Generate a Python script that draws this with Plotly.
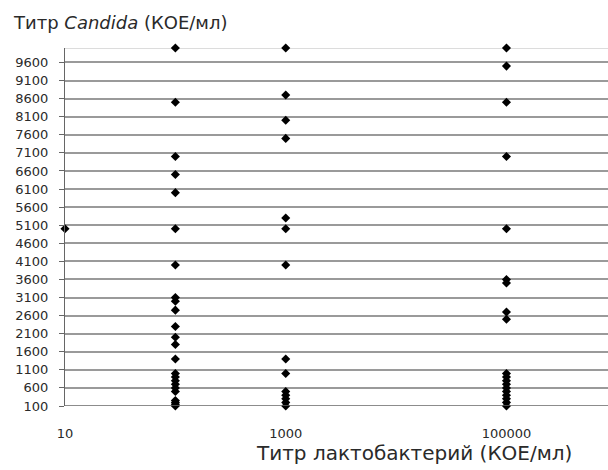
import plotly.graph_objects as go

# Data (x: lactobacilli titre, y: Candida titre)
x_10 = [10]
y_10 = [5000]
x_100 = 100
y_100 = [10000, 8500, 7000, 6500, 6000, 5000, 4000, 3100, 3000, 2750, 2300, 2000, 1800, 1400,
         1000, 900, 800, 700, 600, 500, 250, 200, 150, 100]
x_1000 = 1000
y_1000 = [10000, 8700, 8000, 7500, 5300, 5000, 4000, 1400, 1000, 500, 400, 300, 200, 100]
x_1e5 = 100000
y_1e5 = [10000, 9500, 8500, 7000, 5000, 3600, 3500, 2700, 2500,
         1000, 900, 800, 700, 600, 500, 400, 300, 200, 100]

y_ticks = list(range(100, 10000, 500))
x_ticks = [10, 1000, 100000]
x_tick_labels = ["10", "1000", "100000"]

xs = x_10 + [x_100] * len(y_100) + [x_1000] * len(y_1000) + [x_1e5] * len(y_1e5)
ys = y_10 + y_100 + y_1000 + y_1e5

fig = go.Figure()
fig.add_trace(go.Scatter(
    x=xs, y=ys, mode="markers",
    marker=dict(symbol="diamond", size=7, color="#000000"),
    cliponaxis=False, showlegend=False,
))

fig.add_shape(type="line", xref="paper", yref="y", x0=0, x1=1, y0=10000, y1=10000,
              line=dict(color="#d0d0d0", width=1.5), layer="below")

font = "DejaVu Sans, sans-serif"
fig.update_layout(
    width=608, height=470,
    margin=dict(l=65, r=0, t=48, b=64),
    paper_bgcolor="white", plot_bgcolor="white",
    font=dict(family=font, color="#2a2a2a"),
    annotations=[
        dict(text="Титр <i>Candida</i> (КОЕ/мл)", xref="paper", yref="paper",
             x=-54/543, y=1 + 26/358, xanchor="left", yanchor="middle",
             showarrow=False, font=dict(size=18, color="#2a2a2a", family=font)),
        dict(text="Титр лактобактерий (КОЕ/мл)", xref="paper", yref="paper",
             x=509/543, y=-47/358, xanchor="right", yanchor="middle",
             showarrow=False, font=dict(size=20, color="#2a2a2a", family=font)),
    ],
)
fig.update_xaxes(
    type="log", range=[1, 5.92],
    tickvals=x_ticks, ticktext=x_tick_labels,
    showgrid=False, zeroline=False, showline=False,
    ticks="", ticklabelstandoff=18,
    tickfont=dict(size=13, color="#2a2a2a"),
)
fig.update_yaxes(
    range=[100, 10000], tickvals=y_ticks,
    showgrid=True, gridcolor="#9a9a9a", gridwidth=1.5,
    zeroline=False, showline=True, linecolor="#666666", linewidth=1,
    ticks="outside", ticklen=5, tickcolor="#666666", ticklabelstandoff=8,
    tickfont=dict(size=13, color="#2a2a2a"),
)
fig.add_shape(type="line", xref="paper", yref="y", x0=0, x1=1, y0=100, y1=100,
              line=dict(color="#666666", width=1.5))

fig.write_html("out.html")
